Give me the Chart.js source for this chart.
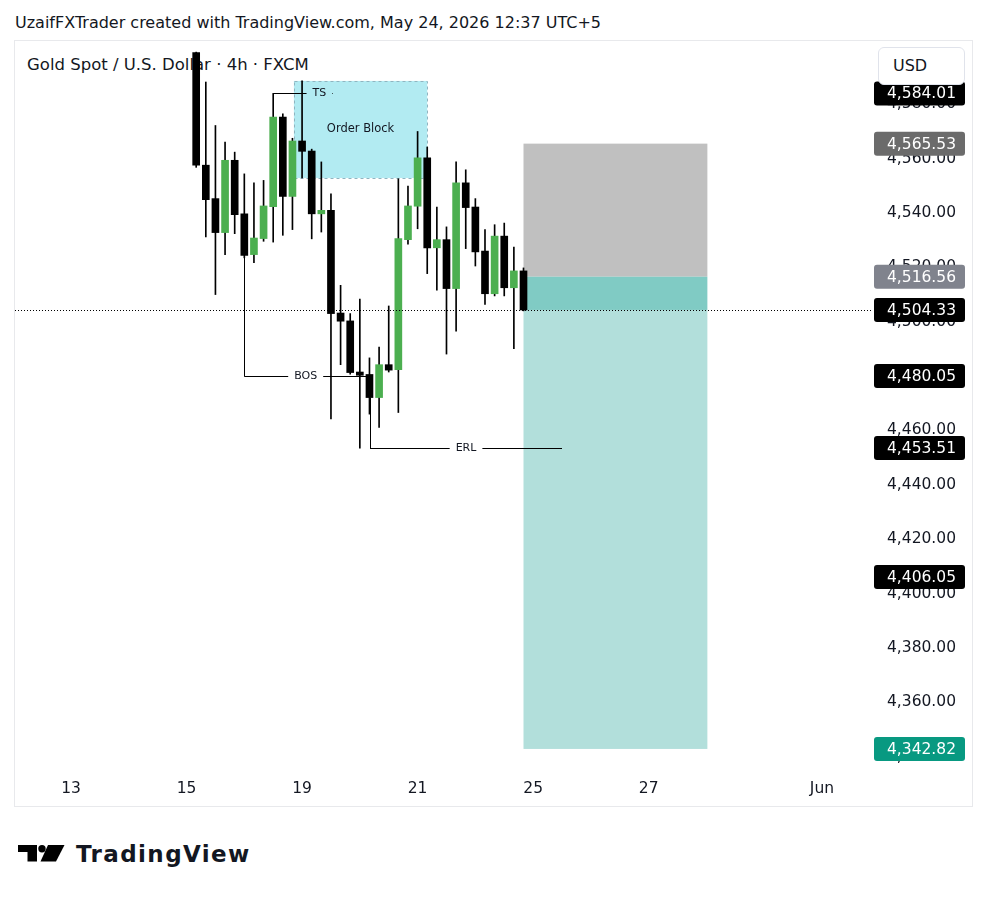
<!DOCTYPE html>
<html>
<head>
<meta charset="utf-8">
<title>XAUUSD 4h</title>
<script src="https://cdn.jsdelivr.net/npm/chart.js@4.4.1/dist/chart.umd.min.js"></script>
<style>
  body { margin: 0; background: #fff; font-family: "DejaVu Sans", sans-serif; color: #131722; }
  #page { position: relative; width: 987px; height: 898px; overflow: hidden; }
  #byline { position: absolute; left: 15px; top: 13px; font-size: 16px; white-space: nowrap; }
  #panel { position: absolute; left: 14px; top: 40px; width: 959px; height: 767px; box-sizing: border-box; border: 1px solid #e8e9ec; }
  #symbol { position: absolute; left: 27px; top: 55px; font-size: 16.5px; white-space: nowrap; }
  #chartBox { position: absolute; left: 15px; top: 41px; width: 957px; height: 765px; }
  #usd { position: absolute; left: 878px; top: 47px; width: 87px; height: 38px; box-sizing: border-box; border: 1px solid #e0e3eb; border-radius: 6px; background: #fff; font-size: 16px; line-height: 36px; padding-left: 14px; }
  #brand { position: absolute; left: 18px; top: 840px; display: flex; align-items: center; }
  #brand span { font-family: "DejaVu Sans", sans-serif; font-weight: 700; font-size: 23px; letter-spacing: 1.4px; margin-left: 11px; margin-top: 1px; }
</style>
</head>
<body>
<div id="page">
  <div id="byline">UzaifFXTrader created with TradingView.com, May 24, 2026 12:37 UTC+5</div>
  <div id="panel"></div>
  <div id="symbol">Gold Spot / U.S. Dollar · 4h · FXCM</div>
  <div id="chartBox"><canvas id="xauChart" width="957" height="765"></canvas></div>
  <div id="usd">USD</div>
  <div id="brand">
    <svg width="47" height="17" viewBox="0 0 47 17">
      <path d="M0 0 H19 V16.5 H9.5 V7 H0 Z" fill="#000"/>
      <circle cx="24" cy="3.7" r="3.7" fill="#000"/>
      <path d="M30 0 H46.5 L38 16.5 H22.5 Z" fill="#000"/>
    </svg>
    <span>TradingView</span>
  </div>
</div>
<script>
// 4h candles, slot 0 = May 13 open, 6 candles per trading day
const firstSlot = 13;
const opens  = [4599.0, 4557.6, 4545.3, 4532.8, 4559.4, 4539.7, 4524.7, 4530.6, 4542.3, 4575.3, 4546.1, 4566.5,
                4562.8, 4539.7, 4541.0, 4503.2, 4500.3, 4481.5, 4480.6, 4472.1, 4484.2, 4482.4, 4530.2, 4542.5,
                4560.3, 4527.2, 4530.2, 4512.2, 4551.1, 4542.2, 4526.0, 4510.3, 4531.5, 4512.5, 4518.7];
const highs  = [4599.2, 4588.2, 4572.2, 4566.1, 4562.4, 4554.4, 4551.1, 4552.0, 4584.01, 4576.5, 4567.5, 4588.6,
                4563.5, 4558.8, 4547.1, 4513.4, 4503.0, 4508.3, 4486.7, 4490.7, 4505.8, 4552.6, 4549.9, 4570.0,
                4564.3, 4542.2, 4534.9, 4558.8, 4555.9, 4545.3, 4533.9, 4535.7, 4536.3, 4527.5, 4519.8];
const lows   = [4556.8, 4531.2, 4510.0, 4524.7, 4532.4, 4523.5, 4521.7, 4529.6, 4529.3, 4531.8, 4533.9, 4552.9,
                4530.5, 4533.0, 4464.2, 4484.2, 4480.7, 4453.51, 4466.0, 4461.1, 4481.5, 4466.6, 4528.5, 4534.2,
                4517.7, 4511.6, 4488.1, 4496.5, 4526.9, 4520.5, 4506.4, 4509.5, 4509.5, 4490.1, 4504.0];
const closes = [4557.6, 4544.9, 4532.8, 4559.4, 4539.4, 4524.4, 4530.8, 4542.6, 4575.3, 4546.1, 4566.5, 4562.7,
                4539.7, 4541.0, 4503.0, 4500.2, 4481.3, 4480.3, 4472.1, 4484.2, 4482.2, 4530.6, 4542.6, 4560.3,
                4527.2, 4530.2, 4512.2, 4551.1, 4542.0, 4525.7, 4510.3, 4531.5, 4512.5, 4518.7, 4504.33];
const slots = opens.map((v, i) => firstSlot + i);

// time axis
const xTickSlots  = [0, 12, 24, 36, 48, 60, 78];
const xTickLabels = ['13', '15', '19', '21', '25', '27', 'Jun'];

// price axis
const yTickValues = [4340, 4360, 4380, 4400, 4420, 4440, 4460, 4480, 4500, 4520, 4540, 4560, 4580];

// drawings
const obSlots  = [23.15, 37];
const obPrices = [4552.9, 4588.6];
const posSlots = [47, 66.1];
const posStop = 4565.53, posEntry = 4516.56, posTarget = 4342.82, lastPrice = 4504.33;
const tsLine  = { from: 21, to: 27.2, textAt: 25.8, price: 4584.01, text: 'TS' };
const bosLine = { from: 18, to: 30.75, price: 4480.05, text: 'BOS', dropFrom: 4524.4 };
const erlLine = { from: 31.06, to: 51, price: 4453.51, text: 'ERL', dropFrom: 4472.1 };

// axis price tags
const tagValues = [4584.01, 4565.53, 4516.56, 4504.33, 4480.05, 4453.51, 4406.05, 4342.82];
const tagColors = ['#000000', '#6b6b6b', '#80838d', '#000000', '#000000', '#000000', '#000000', '#089981'];

const fmt = v => v.toLocaleString('en-US', { minimumFractionDigits: 2, maximumFractionDigits: 2 });
const FONT = '"DejaVu Sans", sans-serif';

const drawings = {
  id: 'drawings',
  beforeDatasetsDraw(chart) {
    const { ctx, chartArea: a, scales: { x, y } } = chart;
    ctx.save();
    ctx.beginPath();
    ctx.rect(a.left, a.top, a.width, a.height);
    ctx.clip();
    const box = (s1, s2, p1, p2, fill) => {
      const x1 = x.getPixelForValue(s1), x2 = x.getPixelForValue(s2);
      const y1 = y.getPixelForValue(Math.max(p1, p2)), y2 = y.getPixelForValue(Math.min(p1, p2));
      ctx.fillStyle = fill;
      ctx.fillRect(x1, y1, x2 - x1, y2 - y1);
      return [x1, y1, x2, y2];
    };
    // order block
    const ob = box(obSlots[0], obSlots[1], obPrices[0], obPrices[1], '#b2ebf2');
    ctx.strokeStyle = '#90b4c0';
    ctx.lineWidth = 1;
    ctx.setLineDash([3, 3]);
    ctx.strokeRect(Math.round(ob[0]) + 0.5, Math.round(ob[1]) + 0.5, Math.round(ob[2] - ob[0]), Math.round(ob[3] - ob[1]));
    ctx.setLineDash([]);
    ctx.fillStyle = '#131722';
    ctx.font = '11.5px ' + FONT;
    ctx.textAlign = 'center';
    ctx.textBaseline = 'middle';
    ctx.fillText('Order Block', (ob[0] + ob[2]) / 2, (ob[1] + ob[3]) / 2);
    // short position tool
    box(posSlots[0], posSlots[1], posStop, posEntry, '#c0c0c0');
    box(posSlots[0], posSlots[1], posEntry, lastPrice, '#80cbc4');
    box(posSlots[0], posSlots[1], lastPrice, posTarget, '#b2dfdb');
    ctx.restore();
  },
  afterDatasetsDraw(chart) {
    const { ctx, chartArea: a, scales: { x, y } } = chart;
    ctx.save();
    // last price dotted line
    const yl = Math.round(y.getPixelForValue(lastPrice)) + 0.5;
    ctx.strokeStyle = '#000';
    ctx.lineWidth = 1;
    ctx.setLineDash([1, 2]);
    ctx.beginPath();
    ctx.moveTo(a.left, yl);
    ctx.lineTo(a.right, yl);
    ctx.stroke();
    ctx.setLineDash([]);

    ctx.font = '11px ' + FONT;
    ctx.textAlign = 'center';
    ctx.textBaseline = 'middle';
    ctx.fillStyle = '#131722';
    const seg = (x1, y1, x2, y2) => {
      ctx.beginPath();
      ctx.moveTo(x1, y1);
      ctx.lineTo(x2, y2);
      ctx.stroke();
    };
    const labelled = (l) => {
      const x1 = x.getPixelForValue(l.from), x2 = x.getPixelForValue(l.to);
      const py = Math.round(y.getPixelForValue(l.price)) + 0.5;
      const tx = l.textAt !== undefined ? x.getPixelForValue(l.textAt) : (x1 + x2) / 2;
      const half = ctx.measureText(l.text).width / 2 + 6;
      const vx = Math.round(x1) + 0.5;
      if (l.dropFrom !== undefined) seg(vx, y.getPixelForValue(l.dropFrom), vx, py);
      seg(x1, py, tx - half, py);
      seg(tx + half, py, x2, py);
      ctx.fillText(l.text, tx, py);
    };
    [tsLine, bosLine, erlLine].forEach(labelled);
    ctx.restore();
  },
  afterDraw(chart) {
    const { ctx, chartArea: a, scales: { y } } = chart;
    ctx.save();
    ctx.font = '15.5px ' + FONT;
    ctx.textAlign = 'left';
    ctx.textBaseline = 'middle';
    tagValues.forEach((v, i) => {
      const py = y.getPixelForValue(v);
      ctx.fillStyle = tagColors[i];
      ctx.beginPath();
      ctx.roundRect(a.right + 2, py - 12, 91, 24, 3);
      ctx.fill();
      ctx.fillStyle = '#fff';
      ctx.fillText(fmt(v), a.right + 15, py + 1);
    });
    ctx.restore();
  }
};

const ctx = document.getElementById('xauChart').getContext('2d');
const xauChart = new Chart(ctx, {
  type: 'bar',
  data: {
    datasets: [{
      label: 'wicks',
      data: slots.map((s, i) => ({ x: s, y: [lows[i], highs[i]] })),
      backgroundColor: '#000',
      barThickness: 1,
      grouped: false,
      order: 2
    }, {
      label: 'bodies',
      data: slots.map((s, i) => ({ x: s, y: [opens[i], closes[i]] })),
      backgroundColor: slots.map((s, i) => closes[i] >= opens[i] ? '#4caf50' : '#000'),
      barThickness: 7,
      minBarLength: 2,
      grouped: false,
      order: 1
    }]
  },
  options: {
    responsive: false,
    animation: false,
    layout: { padding: 0 },
    plugins: { legend: { display: false }, tooltip: { enabled: false } },
    scales: {
      x: {
        type: 'linear',
        min: -5.82,
        max: 83.2,
        offset: false,
        grid: { display: false, offset: false },
        border: { display: false },
        afterBuildTicks: s => { s.ticks = xTickSlots.map(v => ({ value: v })); },
        afterFit: s => { s.height = 36; s.paddingLeft = 0; s.paddingRight = 0; },
        ticks: {
          autoSkip: false,
          maxRotation: 0,
          padding: 2,
          color: '#131722',
          font: { family: FONT, size: 15.5 },
          callback: (v, i) => xTickLabels[i]
        }
      },
      y: {
        position: 'right',
        min: 4335.07,
        max: 4603.29,
        grid: { display: false, drawTicks: false },
        border: { display: false },
        afterBuildTicks: s => { s.ticks = yTickValues.map(v => ({ value: v })); },
        afterFit: s => { s.width = 100; s.paddingTop = 0; s.paddingBottom = 0; },
        ticks: {
          padding: 15,
          color: '#131722',
          font: { family: FONT, size: 15.5 },
          callback: v => fmt(v)
        }
      }
    }
  },
  plugins: [drawings]
});
</script>
</body>
</html>
